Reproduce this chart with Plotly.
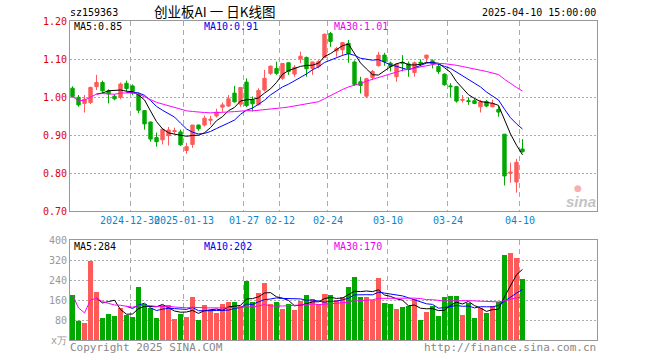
import plotly.graph_objects as go
import pandas as pd

# ---------------- data ----------------
dates = [
    "2024-12-16", "2024-12-17", "2024-12-18", "2024-12-19", "2024-12-20",
    "2024-12-23", "2024-12-24", "2024-12-25", "2024-12-26", "2024-12-27",
    "2024-12-30", "2024-12-31", "2025-01-02", "2025-01-03",
    "2025-01-06", "2025-01-07", "2025-01-08", "2025-01-09", "2025-01-10",
    "2025-01-13", "2025-01-14", "2025-01-15", "2025-01-16", "2025-01-17",
    "2025-01-20", "2025-01-21", "2025-01-22", "2025-01-23", "2025-01-24",
    "2025-01-27", "2025-02-05", "2025-02-06", "2025-02-07",
    "2025-02-10", "2025-02-11", "2025-02-12", "2025-02-13", "2025-02-14",
    "2025-02-17", "2025-02-18", "2025-02-19", "2025-02-20", "2025-02-21",
    "2025-02-24", "2025-02-25", "2025-02-26", "2025-02-27", "2025-02-28",
    "2025-03-03", "2025-03-04", "2025-03-05", "2025-03-06", "2025-03-07",
    "2025-03-10", "2025-03-11", "2025-03-12", "2025-03-13", "2025-03-14",
    "2025-03-17", "2025-03-18", "2025-03-19", "2025-03-20", "2025-03-21",
    "2025-03-24", "2025-03-25", "2025-03-26", "2025-03-27", "2025-03-28",
    "2025-03-31", "2025-04-01", "2025-04-02", "2025-04-03",
    "2025-04-07", "2025-04-08", "2025-04-09", "2025-04-10",
]

open_ = [1.024, 1.000, 0.984, 0.986, 1.028, 1.039, 1.017, 1.003, 1.000, 1.037,
         1.030, 1.008, 0.965, 0.935, 0.894, 0.888, 0.899, 0.910, 0.909, 0.860,
         0.876, 0.927, 0.927, 0.9395, 0.951, 0.974, 0.977, 1.011, 0.982, 1.040,
         0.993, 0.981, 1.019, 1.063, 1.076, 1.050, 1.091, 1.061, 1.101, 1.105,
         1.076, 1.081, 1.105, 1.168, 1.122, 1.125, 1.142, 1.093, 1.041, 1.003,
         1.052, 1.083, 1.111, 1.090, 1.054, 1.092, 1.088, 1.065, 1.092, 1.103,
         1.096, 1.081, 1.061, 1.030, 1.028, 0.992, 0.991, 0.991, 0.975, 0.989,
         0.975, 0.968, 0.903, 0.800, 0.777, 0.864]
high = [1.029, 1.006, 1.006, 1.028, 1.059, 1.044, 1.021, 1.008, 1.039, 1.044,
        1.034, 1.012, 0.966, 0.936, 0.907, 0.919, 0.922, 0.920, 0.915, 0.880,
        0.927, 0.928, 0.952, 0.951, 0.970, 0.986, 1.006, 1.030, 1.027, 1.050,
        1.002, 1.024, 1.072, 1.083, 1.094, 1.090, 1.092, 1.085, 1.120, 1.107,
        1.094, 1.098, 1.168, 1.172, 1.133, 1.145, 1.151, 1.097, 1.054, 1.050,
        1.072, 1.120, 1.117, 1.094, 1.090, 1.111, 1.094, 1.094, 1.100, 1.112,
        1.100, 1.088, 1.063, 1.037, 1.030, 1.006, 1.000, 0.997, 0.993, 0.993,
        0.994, 0.977, 0.903, 0.828, 0.838, 0.890]
low = [0.999, 0.975, 0.960, 0.982, 1.019, 1.010, 0.984, 0.992, 0.995, 1.015,
       1.006, 0.958, 0.915, 0.883, 0.870, 0.876, 0.873, 0.903, 0.872, 0.851,
       0.867, 0.912, 0.923, 0.928, 0.947, 0.962, 0.975, 0.986, 0.975, 0.974,
       0.963, 0.978, 1.015, 1.059, 1.059, 1.046, 1.059, 1.054, 1.090, 1.054,
       1.059, 1.076, 1.103, 1.133, 1.107, 1.110, 1.091, 1.030, 1.010, 0.998,
       1.045, 1.081, 1.083, 1.068, 1.041, 1.068, 1.054, 1.054, 1.081, 1.091,
       1.076, 1.061, 1.030, 1.000, 0.986, 0.986, 0.980, 0.982, 0.960, 0.974,
       0.974, 0.949, 0.768, 0.775, 0.749, 0.854]
close = [1.002, 0.980, 0.995, 1.026, 1.039, 1.017, 1.009, 0.996, 1.035, 1.023,
         1.011, 0.966, 0.930, 0.890, 0.883, 0.916, 0.914, 0.912, 0.875, 0.870,
         0.927, 0.917, 0.945, 0.942, 0.961, 0.980, 0.996, 0.988, 1.026, 0.978,
         0.983, 1.018, 1.050, 1.082, 1.063, 1.089, 1.068, 1.079, 1.108, 1.075,
         1.093, 1.094, 1.166, 1.147, 1.128, 1.144, 1.115, 1.034, 1.031, 1.049,
         1.068, 1.111, 1.094, 1.081, 1.087, 1.090, 1.076, 1.091, 1.090, 1.111,
         1.088, 1.068, 1.033, 1.028, 0.990, 0.994, 0.989, 0.984, 0.988, 0.977,
         0.984, 0.961, 0.793, 0.803, 0.829, 0.857]
volume = [180, 77, 68, 316, 192, 88, 104, 96, 128, 100,
          92, 212, 144, 128, 88, 140, 140, 84, 104, 92,
          172, 80, 140, 120, 108, 144, 152, 152, 136, 236,
          152, 188, 228, 144, 152, 124, 144, 120, 156, 180,
          164, 144, 184, 180, 160, 172, 212, 252, 172, 172,
          160, 248, 148, 144, 124, 132, 136, 164, 80, 112,
          136, 96, 172, 176, 176, 100, 148, 88, 128, 108,
          136, 152, 340, 348, 328, 244]

tick_dates = ["2024-12-30", "2025-01-13", "2025-01-27", "2025-02-12",
              "2025-02-24", "2025-03-10", "2025-03-24", "2025-04-10"]
tick_labels = ["2024-12-30", "2025-01-13", "01-27", "02-12",
               "02-24", "03-10", "03-24", "04-10"]
price_ticks = [0.70, 0.80, 0.90, 1.00, 1.10, 1.20]
vol_ticks = [0, 80, 160, 240, 320, 400]
vol_tick_text = ["x万", "80", "160", "240", "320", "400"]

code = "sz159363"
title = "创业板AI 一 日K线图"
stamp = "2025-04-10 15:00:00"
price_ma_text = ["MA5:0.85", "MA10:0.91", "MA30:1.01"]
vol_ma_text = ["MA5:284", "MA10:202", "MA30:170"]

# ---------------- derived ----------------
x = list(range(len(dates)))
c = pd.Series(close)
v = pd.Series(volume)
ma5 = c.rolling(5).mean()
ma10 = c.rolling(10).mean()
ma30 = c.rolling(30, min_periods=1).mean()
vma5 = v.rolling(5).mean()
vma10 = v.rolling(10).mean()
vma30 = v.rolling(30, min_periods=1).mean()

RED = "#ff5a5a"
GREEN = "#00a800"
bar_colors = [RED if cl >= op else GREEN for op, cl in zip(open_, close)]
tick_pos = [dates.index(d) - 0.42 for d in tick_dates]

W, H = 660, 360
def px(xp):
    return xp / W
def py(yp):
    return 1 - yp / H

MONO = "DejaVu Sans Mono"
fig = go.Figure()

fig.add_trace(go.Candlestick(
    x=x, open=open_, high=high, low=low, close=close,
    increasing=dict(line=dict(color=RED, width=1), fillcolor=RED),
    decreasing=dict(line=dict(color=GREEN, width=1), fillcolor=GREEN),
    whiskerwidth=0, showlegend=False, xaxis="x", yaxis="y", hoverinfo="skip"))

for s, col in [(ma5, "#000000"), (ma10, "#0000ff"), (ma30, "#ff00ff")]:
    fig.add_trace(go.Scatter(x=x, y=s, mode="lines", line=dict(color=col, width=1),
                             showlegend=False, xaxis="x", yaxis="y", hoverinfo="skip"))

fig.add_trace(go.Bar(x=x, y=volume, marker=dict(color=bar_colors, line=dict(width=0)),
                     width=0.84, showlegend=False, xaxis="x2", yaxis="y2", hoverinfo="skip"))
for s, col in [(vma5, "#000000"), (vma10, "#0000ff"), (vma30, "#ff00ff")]:
    fig.add_trace(go.Scatter(x=x, y=s, mode="lines", line=dict(color=col, width=1),
                             showlegend=False, xaxis="x2", yaxis="y2", hoverinfo="skip"))

xdom = [px(70), px(597)]
xr = [-0.42, 87.42]
axis_common = dict(showline=True, linecolor="#999999", linewidth=1, mirror=True,
                   zeroline=False, automargin=False)
fig.update_layout(
    template="none",
    width=W, height=H, margin=dict(l=0, r=0, t=0, b=0, autoexpand=False),
    paper_bgcolor="white", plot_bgcolor="white",
    boxgap=0.2,
    xaxis=dict(domain=xdom, range=xr, tickmode="array", tickvals=tick_pos,
               ticktext=tick_labels, tickangle=0, ticks="", showgrid=True,
               gridcolor="#aaaaaa", griddash="5px,4px", gridwidth=1,
               tickfont=dict(family=MONO, size=10, color="#0a86cc"),
               rangeslider=dict(visible=False), anchor="y", **axis_common),
    yaxis=dict(domain=[py(211.3), py(21.3)], range=[0.70, 1.20], tickmode="array",
               tickvals=price_ticks, ticktext=[f"{t:.2f}" for t in price_ticks],
               ticks="", showgrid=True, gridcolor="#aaaaaa", griddash="2px,2px",
               tickfont=dict(family=MONO, size=10, color="#e00000"),
               anchor="x", **axis_common),
    xaxis2=dict(domain=xdom, range=xr, tickmode="array", tickvals=tick_pos,
                showticklabels=False, ticks="", showgrid=True, gridcolor="#aaaaaa",
                griddash="5px,4px", anchor="y2", **axis_common),
    yaxis2=dict(domain=[py(340), py(240)], range=[0, 400], tickmode="array",
                tickvals=vol_ticks, ticktext=vol_tick_text, ticks="",
                showgrid=True, gridcolor="#aaaaaa", griddash="2px,2px",
                tickfont=dict(family=MONO, size=10, color="#999999"),
                anchor="x2", **axis_common),
)

def note(text, xp, yp, color="#000000", size=10, family=MONO, xanchor="left", **kw):
    fig.add_annotation(text=text, x=px(xp), y=py(yp), xref="paper", yref="paper",
                       xanchor=xanchor, yanchor="middle", showarrow=False,
                       font=dict(family=family, size=size, color=color),
                       borderpad=0, **kw)

note(code, 69, 13)
note(title, 214, 11, size=13.5, family="Noto Sans CJK SC", xanchor="center")
note(stamp, 597, 13, xanchor="right")
note(price_ma_text[0], 73, 26.5)
note(price_ma_text[1], 203, 26.5, color="#0000ee")
note(price_ma_text[2], 333, 26.5, color="#ee00ee")
note(vol_ma_text[0], 73, 246)
note(vol_ma_text[1], 203, 246, color="#0000ee")
note(vol_ma_text[2], 333, 246, color="#ee00ee")
note("Copyright 2025 SINA.COM", 69, 347, color="#888888", size=11)
note("http://finance.sina.com.cn", 597, 347, color="#888888", size=11, xanchor="right")
note("<b><i>sina</i></b>", 581, 201, color="#c4c4c4", size=15, family="Arial",
     xanchor="center")
note("●", 578, 188, color="#f6b0b0", size=9, family="DejaVu Sans", xanchor="center")

fig.write_html("out.html", config={"displayModeBar": False, "staticPlot": True},
               post_script="document.body.style.margin='0px';")
